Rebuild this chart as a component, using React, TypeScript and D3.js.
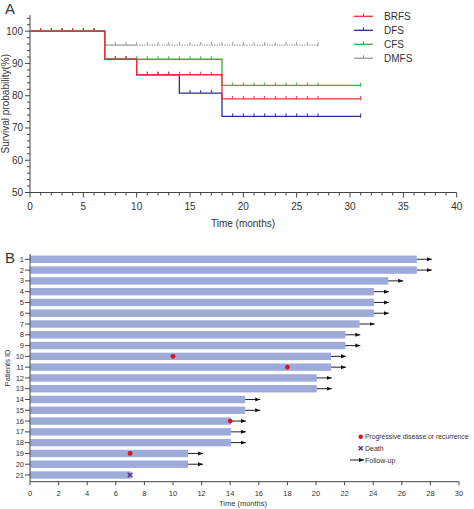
import React from "react";
import * as d3 from "d3";

// ---------- Panel A data ----------
const seriesNames = ["BRFS", "DFS", "CFS", "DMFS"];
const seriesColors = ["#e8333c", "#2b2f8f", "#2eb34a", "#9a9a9a"];
// step change points [time, survival %]
const brfsSteps: [number, number][] = [[0, 100], [7, 91.3], [10, 86.5], [18, 79.0]];
const dfsSteps: [number, number][] = [[0, 100], [7, 91.3], [10, 86.5], [14, 80.8], [18, 73.6]];
const cfsSteps: [number, number][] = [[0, 100], [7, 91.3], [18, 83.2]];
const dmfsSteps: [number, number][] = [[0, 100], [7, 95.7]];
const seriesEnd = [31, 31, 31, 27];
const brfsCensor = [1, 2, 3, 4, 5, 6, 8, 9, 11, 12, 13, 14, 15, 16, 17, 19, 20, 21, 22, 23, 24, 25, 26, 27, 31];
const dfsCensor = [1, 2, 3, 4, 5, 6, 8, 9, 11, 12, 13, 15, 16, 17, 19, 20, 21, 22, 23, 24, 25, 26, 27, 31];
const cfsCensor = [1, 2, 3, 4, 5, 6, 8, 9, 10, 11, 12, 13, 14, 15, 16, 17, 19, 20, 21, 22, 23, 24, 25, 26, 27, 31];
const dmfsCensor = [1, 2, 3, 4, 5, 6, 8, 9, 10, 11, 12, 13, 14, 15, 16, 17, 18, 19, 20, 21, 22, 23, 24, 25, 26, 27];
const xTicksA = [0, 5, 10, 15, 20, 25, 30, 35, 40];
const yTicksA = [50, 60, 70, 80, 90, 100];

// ---------- Panel B data ----------
const patientIds = ["1", "2", "3", "4", "5", "6", "7", "8", "9", "10", "11", "12", "13", "14", "15", "16", "17", "18", "19", "20", "21"];
const followUpMonths = [27, 27, 25, 24, 24, 24, 23, 22, 22, 21, 21, 20, 20, 15, 15, 14, 14, 14, 11, 11, 7];
const progressionIds = ["10", "11", "16", "19"];
const progressionMonths = [10, 18, 14, 7];
const deathIds = ["21"];
const deathMonths = [7];
const xTicksB = [0, 2, 4, 6, 8, 10, 12, 14, 16, 18, 20, 22, 24, 26, 28, 30];
const legendB = ["Progressive disease or recurrence", "Death", "Follow-up"];

const FONT = "'Liberation Sans', Arial, sans-serif";
const TXT = "#333";

function stepPoints(steps: [number, number][], end: number): [number, number][] {
  const pts: [number, number][] = steps.map((s) => [s[0], s[1]]);
  pts.push([end, steps[steps.length - 1][1]]);
  return pts;
}
function survAt(steps: [number, number][], t: number) {
  let v = steps[0][1];
  for (const s of steps) if (s[0] <= t) v = s[1];
  return v;
}

export default function App() {
  const W = 474, H = 509;
  // Panel A scales
  const xA = d3.scaleLinear().domain([0, 40]).range([30, 456.7]);
  const yA = d3.scaleLinear().domain([50, 100]).range([192.5, 31.2]);
  const stepsAll = [brfsSteps, dfsSteps, cfsSteps, dmfsSteps];
  const censorAll = [brfsCensor, dfsCensor, cfsCensor, dmfsCensor];
  const drawOrder = [3, 1, 2, 0];
  const line = d3.line<[number, number]>().x((d) => xA(d[0])).y((d) => yA(d[1])).curve(d3.curveStepAfter);

  // Panel B scales
  const xB = d3.scaleLinear().domain([0, 30]).range([30, 459]);
  const yB = d3.scalePoint<string>().domain(patientIds).range([259.3, 475]);
  const barH = 7.4;
  const barColor = "#9eaad8";
  const axisB = 481.7;

  const minorA = d3.range(0, 41, 1);
  const minorYA = d3.range(50, 105, 2);

  return (
    <svg width={W} height={H} style={{ position: "absolute", left: 0, top: 0, background: "#fff" }} fontFamily={FONT}>
      <defs>
        <marker id="arr" viewBox="0 0 10 10" refX="10" refY="5" markerWidth="5" markerHeight="5" orient="auto" markerUnits="userSpaceOnUse">
          <path d="M0,1 L10,5 L0,9 z" fill="#111" />
        </marker>
      </defs>
      {/* ---------------- Panel A ---------------- */}
      <text x={5} y={14} fontSize={15} fill={TXT}>A</text>
      {/* axes */}
      <line x1={xA(0)} x2={xA(0)} y1={yA(105)} y2={yA(50)} stroke="#444" strokeWidth={1} />
      <line x1={xA(0)} x2={xA(40)} y1={yA(50)} y2={yA(50)} stroke="#444" strokeWidth={1} />
      {minorA.map((t) => (
        <line key={"xa" + t} x1={xA(t)} x2={xA(t)} y1={yA(50)} y2={yA(50) + (t % 5 === 0 ? 5 : 3)} stroke="#444" strokeWidth={1} />
      ))}
      {xTicksA.map((t) => (
        <text key={"xl" + t} x={xA(t)} y={210} fontSize={10} textAnchor="middle" fill={TXT}>{t}</text>
      ))}
      {minorYA.map((v) => (
        <line key={"ya" + v} x1={xA(0)} x2={xA(0) - (v % 10 === 0 ? 5 : 3)} y1={yA(v)} y2={yA(v)} stroke="#444" strokeWidth={1} />
      ))}
      {yTicksA.map((v) => (
        <text key={"yl" + v} x={23} y={yA(v) + 3.5} fontSize={10} textAnchor="end" fill={TXT}>{v}</text>
      ))}
      <text x={243} y={227} fontSize={10} textAnchor="middle" fill={TXT}>Time (months)</text>
      <text transform={`translate(9,${(yA(105) + yA(50)) / 2}) rotate(-90)`} fontSize={10} textAnchor="middle" fill={TXT}>Survival probability(%)</text>
      {/* curves */}
      {drawOrder.map((i) => {
        const pts = stepPoints(stepsAll[i], seriesEnd[i]);
        const isGray = i === 3;
        return (
          <g key={"s" + i}>
            {isGray ? (
              <>
                <path d={line(pts.filter((p) => p[0] <= 10).concat([[10, pts[pts.length - 1][1]]])) as string} fill="none" stroke={seriesColors[i]} strokeWidth={1.3} />
                <path d={line([[10, pts[pts.length - 1][1]], [seriesEnd[i], pts[pts.length - 1][1]]]) as string} fill="none" stroke={seriesColors[i]} strokeWidth={1.3} strokeDasharray="1.2,1.3" />
              </>
            ) : (
              <path d={line(pts) as string} fill="none" stroke={seriesColors[i]} strokeWidth={1.3} />
            )}
            {censorAll[i].map((t) => {
              const v = survAt(stepsAll[i], t);
              const isEnd = t === seriesEnd[i];
              return (
                <line key={t} x1={xA(t)} x2={xA(t)} y1={yA(v) - 3} y2={yA(v) + (isEnd ? 1.5 : 0)} stroke={seriesColors[i]} strokeWidth={1} />
              );
            })}
          </g>
        );
      })}
      {/* legend A */}
      {seriesNames.map((n, i) => {
        const ly = 16.3 + i * 14;
        return (
          <g key={"lg" + n}>
            <line x1={354} x2={373} y1={ly} y2={ly} stroke={seriesColors[i]} strokeWidth={1.3} />
            <line x1={363.5} x2={363.5} y1={ly - 3} y2={ly} stroke={seriesColors[i]} strokeWidth={1} />
            <text x={384} y={ly + 3.6} fontSize={10} fill={TXT}>{n}</text>
          </g>
        );
      })}

      {/* ---------------- Panel B ---------------- */}
      <text x={5} y={263} fontSize={15} fill={TXT}>B</text>
      {patientIds.map((id, i) => (
        <rect key={"b" + id} x={xB(0)} y={(yB(id) as number) - barH / 2} width={xB(followUpMonths[i] + 0.05) - xB(0)} height={barH} fill={barColor} />
      ))}
      {patientIds.map((id, i) =>
        deathIds.includes(id) ? null : (
          <line key={"a" + id} x1={xB(followUpMonths[i] + 0.05)} x2={xB(followUpMonths[i] + 1.1)} y1={yB(id) as number} y2={yB(id) as number} stroke="#222" strokeWidth={1} markerEnd="url(#arr)" />
        )
      )}
      {progressionIds.map((id, i) => (
        <circle key={"p" + id} cx={xB(progressionMonths[i])} cy={yB(id) as number} r={2.4} fill="#e0101e" />
      ))}
      {deathIds.map((id, i) => {
        const cx = xB(deathMonths[i]), cy = yB(id) as number;
        return (
          <g key={"d" + id} stroke="#5b2a8c" strokeWidth={1.6}>
            <line x1={cx - 2.3} x2={cx + 2.3} y1={cy - 2.3} y2={cy + 2.3} />
            <line x1={cx - 2.3} x2={cx + 2.3} y1={cy + 2.3} y2={cy - 2.3} />
          </g>
        );
      })}
      {/* axes B */}
      <line x1={xB(0)} x2={xB(0)} y1={254} y2={axisB} stroke="#444" strokeWidth={1} />
      <line x1={xB(0)} x2={xB(30)} y1={axisB} y2={axisB} stroke="#444" strokeWidth={1} />
      {patientIds.map((id) => (
        <g key={"yt" + id}>
          <line x1={xB(0) - 5} x2={xB(0)} y1={yB(id) as number} y2={yB(id) as number} stroke="#444" strokeWidth={1} />
          <text x={xB(0) - 6} y={(yB(id) as number) + 2.6} fontSize={7.5} textAnchor="end" fill={TXT}>{id}</text>
        </g>
      ))}
      {xTicksB.map((t) => (
        <g key={"xt" + t}>
          <line x1={xB(t)} x2={xB(t)} y1={axisB} y2={axisB + 3.5} stroke="#444" strokeWidth={1} />
          <text x={xB(t)} y={axisB + 14} fontSize={7.5} textAnchor="middle" fill={TXT}>{t}</text>
        </g>
      ))}
      <text x={243} y={506} fontSize={7.5} textAnchor="middle" fill={TXT}>Time (months)</text>
      <text transform={`translate(10,${(254 + axisB) / 2}) rotate(-90)`} fontSize={7.5} textAnchor="middle" fill={TXT}>Patients ID</text>
      {/* legend B */}
      <circle cx={360.7} cy={436.7} r={2.2} fill="#e0101e" />
      <text x={365} y={439.3} fontSize={6.8} fill={TXT}>{legendB[0]}</text>
      <g stroke="#5b2a8c" strokeWidth={1.5}>
        <line x1={358.7} x2={362.7} y1={446.3} y2={450.3} />
        <line x1={358.7} x2={362.7} y1={450.3} y2={446.3} />
      </g>
      <text x={365} y={450.8} fontSize={7} fill={TXT}>{legendB[1]}</text>
      <line x1={350} x2={364} y1={460} y2={460} stroke="#222" strokeWidth={1} markerEnd="url(#arr)" />
      <text x={365} y={462.5} fontSize={7} fill={TXT}>{legendB[2]}</text>
    </svg>
  );
}
